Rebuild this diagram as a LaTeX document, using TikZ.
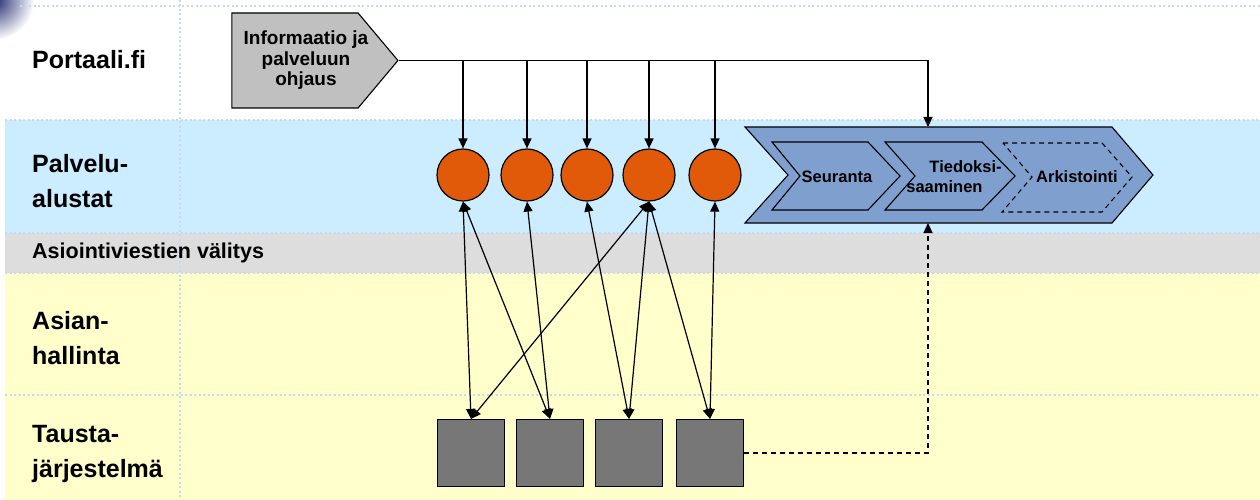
\documentclass[tikz,border=0pt]{standalone}
\usepackage{fontspec}
\setmainfont{Liberation Sans}
\usetikzlibrary{shapes.symbols,arrows.meta,positioning}

\definecolor{laneblue}{RGB}{204,236,255}
\definecolor{lanegray}{RGB}{221,221,221}
\definecolor{laneyellow}{RGB}{255,255,204}
\definecolor{gridblue}{RGB}{200,216,238}
\definecolor{ballorange}{RGB}{224,90,10}
\definecolor{boxgray}{RGB}{119,119,119}
\definecolor{chevblue}{RGB}{127,159,207}
\definecolor{infogray}{RGB}{192,192,192}
\definecolor{logonavy}{RGB}{30,40,110}

\tikzset{
  lanelabel/.style={anchor=west, align=left, inner sep=0pt,
    font=\fontsize{25}{35}\selectfont\bfseries},
  platform/.style={circle, draw, line width=1.2pt, fill=ballorange,
    minimum size=52pt, inner sep=0pt},
  backend/.style={draw, line width=1.2pt, fill=boxgray,
    minimum size=67pt, inner sep=0pt},
  chevshape/.style={draw, line width=1.1pt, fill=chevblue, line join=miter},
  phasetext/.style={inner sep=0pt, font=\fontsize{16.5}{20}\selectfont\bfseries},
  flow/.style={line width=1.2pt, -{Triangle[length=10pt,width=9pt]}},
  link/.style={line width=1.2pt,
    {Triangle[length=10pt,width=9pt]}-{Triangle[length=10pt,width=9pt]}},
  gridrule/.style={gridblue, line width=2pt, dash pattern=on 2pt off 2.5pt}
}

\begin{document}
\begin{tikzpicture}[x=1pt,y=-1pt]
	\useasboundingbox (0,0) rectangle (1260,500);
	
	% lanes
	\fill[laneblue] (5,120) rectangle (1260,233);
	\fill[lanegray] (5,233) rectangle (1260,273);
	\fill[laneyellow] (5,273) rectangle (1260,500);
	
	% corner logo
	\begin{scope}
		\clip (0,0) rectangle (45,45);
		\shade[inner color=logonavy, outer color=white] (-6,0) circle (40);
	\end{scope}
	
	% dotted grid
	\draw[gridrule] (20,6) -- (1260,6);
	\draw[gridrule] (180,0) -- (180,500);
	\foreach \y in {120,233,273,395}
	\draw[gridrule] (5,\y) -- (1260,\y);
	
	% lane labels
	\node[lanelabel] (portal) at (32,60) {Portaali.fi};
	\node[lanelabel] (alusta) at (32,181) {Palvelu-\\alustat};
	\node[lanelabel, font=\fontsize{21.5}{26}\selectfont\bfseries] (valitys) at (32,253) {Asiointiviestien välitys};
	\node[lanelabel] (asian) at (32,338) {Asian-\\hallinta};
	\node[lanelabel] (tausta) at (32,454) {Tausta-\\järjestelmä};
	
	% portal entry
	\node[signal, signal to=east, signal pointer angle=100, draw, line width=1.1pt,
	fill=infogray, minimum width=166pt, minimum height=95pt, inner sep=0pt]
	(info) at (295,60.5) {};
	\node[align=center, inner sep=0pt, font=\fontsize{19}{20.5}\selectfont\bfseries]
	(infotext) at (306,60.5) {Informaatio ja\\palveluun\\ohjaus};
	
	% process chain
	\draw[chevshape] (745,127) -- (1112,127) -- (1153,175) -- (1112,223)
	-- (745,223) -- (788,175) -- cycle;
	\draw[chevshape] (772,142) -- (868,142) -- (900,176) -- (868,210)
	-- (772,210) -- (800,176) -- cycle;
	\draw[chevshape] (885,142) -- (982,142) -- (1015,176) -- (982,210)
	-- (885,210) -- (915,176) -- cycle;
	\draw[chevshape, dash pattern=on 5pt off 4pt] (1003,143) -- (1102,143)
	-- (1132,177) -- (1102,212) -- (1002,212) -- (1032,177) -- cycle;
	\node[phasetext] (seur) at (837,177) {Seuranta};
	\node[phasetext, align=left] (tied) at (954,177) {\hspace*{1.4em}Tiedoksi-\\saaminen};
	\node[phasetext] (ark) at (1077,177) {Arkistointi};
	\coordinate (chevtop) at (928,127);
	\coordinate (chevbot) at (928,223);
	
	% platforms and back-end systems
	\foreach \n/\x in {1/463,2/527,3/587,4/649,5/715}
	\node[platform] (c\n) at (\x,175) {};
	\foreach \n/\x in {1/471,2/550,3/629,4/710}
	\node[backend] (s\n) at (\x,453) {};
	
	% arrows
	\draw[flow] (info.east) -| (chevtop);
	\foreach \n in {1,...,5}
	\draw[flow] (c\n.north |- info.east) -- (c\n.north);
	\foreach \a/\b in {1/1,1/2,2/2,3/3,4/1,4/3,4/4,5/4}
	\draw[link] (c\a.south) -- (s\b.north);
	\draw[flow, dash pattern=on 5pt off 4pt] (s4.east) -| (chevbot);
	
\end{tikzpicture}
\end{document}
